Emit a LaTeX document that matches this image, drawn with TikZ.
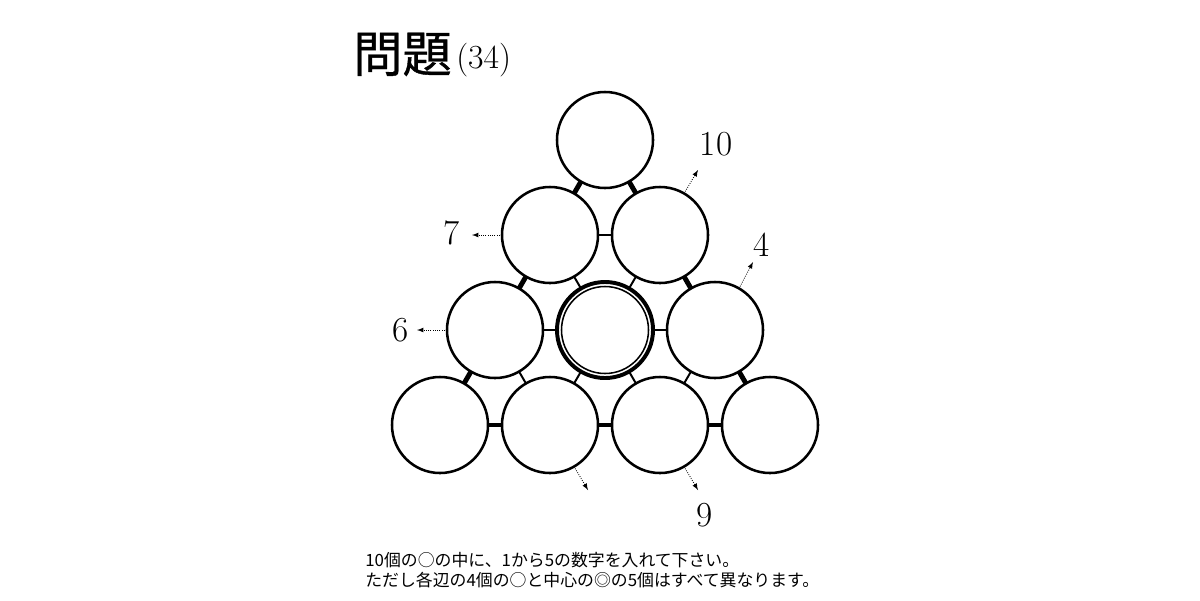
\documentclass[tikz,border=0pt]{standalone}
\usepackage{fontspec}
\newfontfamily\cjk{Noto Sans CJK JP}
\newfontfamily\cjkhead[FakeBold=0.8]{Noto Sans CJK JP}
\usetikzlibrary{positioning}

\tikzset{
  ball/.style={circle,draw,line width=1.8pt,minimum size=2.4cm,inner sep=0pt,outer sep=0pt},
  rim/.style={line width=3.5pt},
  spoke/.style={line width=1.4pt},
  hint/.style={densely dotted,-latex,line width=0.6pt},
  sumlabel/.style={inner sep=0pt,font=\fontsize{25}{25}\selectfont}
}

\begin{document}
\begin{tikzpicture}[x=0.025cm,y=-0.025cm]
    \useasboundingbox (0,0) rectangle (1200,600);

    % title
    \node[anchor=base west,inner sep=0pt,font=\cjkhead\fontsize{35}{35}\selectfont] (title) at (353,72) {問題};
    \node[anchor=base west,inner sep=0pt,font=\fontsize{24}{24}\selectfont] (num) at (456,68) {(34)};

    % the ten circles
    \node[ball] (c11) at (605,140) {};
    \node[ball] (c21) at (550,235) {};
    \node[ball] (c22) at (660,235) {};
    \node[ball] (c31) at (495,330) {};
    \node[ball,line width=2.8pt] (c32) at (605,330) {};
    \node[ball] (c33) at (715,330) {};
    \node[ball] (c41) at (440,425) {};
    \node[ball] (c42) at (550,425) {};
    \node[ball] (c43) at (660,425) {};
    \node[ball] (c44) at (770,425) {};
    \draw[line width=1.1pt] (c32.center) circle[radius=43.5];

    % bars on the sides
    \draw[rim] (c11) -- (c21);
    \draw[rim] (c21) -- (c31);
    \draw[rim] (c31) -- (c41);
    \draw[rim] (c11) -- (c22);
    \draw[rim] (c22) -- (c33);
    \draw[rim] (c33) -- (c44);
    \draw[rim] (c41) -- (c42);
    \draw[rim] (c42) -- (c43);
    \draw[rim] (c43) -- (c44);

    % bars inside
    \draw[spoke] (c21) -- (c22);
    \draw[spoke] (c21) -- (c32);
    \draw[spoke] (c22) -- (c32);
    \draw[spoke] (c31) -- (c32);
    \draw[spoke] (c32) -- (c33);
    \draw[spoke] (c31) -- (c42);
    \draw[spoke] (c32) -- (c42);
    \draw[spoke] (c32) -- (c43);
    \draw[spoke] (c33) -- (c43);

    % sums
    \coordinate (e10) at (698,170);
    \draw[hint] (c22.60) -- (e10);
    \node[sumlabel] (s10) at (716,144) {10};
    \coordinate (e7) at (472,235);
    \draw[hint] (c21.west) -- (e7);
    \node[sumlabel] (s7) at (452,233) {7};
    \coordinate (e4) at (753,262);
    \draw[hint] (c33.60) -- (e4);
    \node[sumlabel] (s4) at (762,245) {4};
    \coordinate (e6) at (417,330);
    \draw[hint] (c31.west) -- (e6);
    \node[sumlabel] (s6) at (401,330) {6};
    \coordinate (eb) at (588,490);
    \draw[hint] (c42.-60) -- (eb);
    \coordinate (e9) at (698,490);
    \draw[hint] (c43.-60) -- (e9);
    \node[sumlabel] (s9) at (705,515) {9};

    % question
    \node[anchor=west,inner sep=0pt,font=\cjk\fontsize{12}{12}\selectfont] (q1) at (365,560) {10個の○の中に、1から5の数字を入れて下さい。};
    \node[anchor=west,inner sep=0pt,font=\cjk\fontsize{12}{12}\selectfont] (q2) at (365,580) {ただし各辺の4個の○と中心の◎の5個はすべて異なります。};
\end{tikzpicture}
\end{document}
